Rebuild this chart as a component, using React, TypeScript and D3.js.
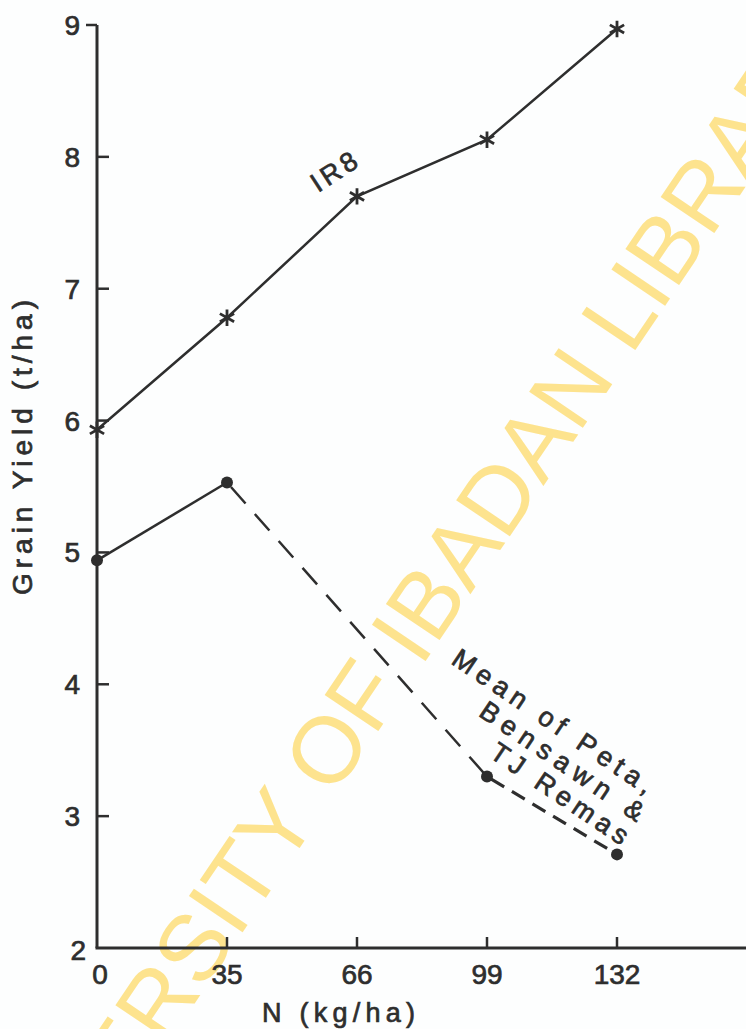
import React from "react";
import * as d3 from "d3";

const nLevels = ["0", "35", "66", "99", "132"];
const ir8Levels = ["0", "35", "66", "99", "132"];
const ir8Yield = [5.93, 6.78, 7.7, 8.13, 8.97];
const meanLevels = ["0", "35", "99", "132"];
const meanYield = [4.94, 5.53, 3.3, 2.71];
const yTicks = [2, 3, 4, 5, 6, 7, 8, 9];
const xTickLabels = ["0", "35", "66", "99", "132"];

const W = 746;
const H = 1029;
const INK = "#2e2e2e";
const FONT = "'Liberation Sans', Arial, sans-serif";

export default function App() {
  const x = d3.scalePoint<string>().domain(nLevels).range([97, 617]).padding(0);
  const y = d3.scaleLinear().domain([2, 9]).range([948, 25]);

  const ir8Pts: [number, number][] = ir8Levels.map((l, i) => [x(l)!, y(ir8Yield[i])]);
  const meanPts: [number, number][] = meanLevels.map((l, i) => [x(l)!, y(meanYield[i])]);
  const line = d3.line();
  const star = d3.symbol(d3.symbolAsterisk, 190)();

  const x0 = x(nLevels[0])!;
  const yBase = y(2);
  const txt = { fontFamily: FONT, fill: INK, stroke: INK, strokeWidth: 0.7 };

  return (
    <svg width={W} height={H} style={{ position: "absolute", left: 0, top: 0 }}>
      <rect width={W} height={H} fill="#fdfefe" />
      {/* watermark */}
      <text
        transform="translate(4,1286) rotate(-56)"
        fontFamily={FONT}
        fontSize={94}
        fill="#fde38e"
      >
        UNIVERSITY OF IBADAN LIBRARY
      </text>

      {/* axes */}
      <line x1={x0} y1={y(9)} x2={x0} y2={yBase} stroke={INK} strokeWidth={3} />
      <line x1={x0 - 1.5} y1={yBase} x2={W} y2={yBase} stroke={INK} strokeWidth={3} />
      {yTicks.map((t) =>
        t === 2 ? null : t === 9 ? (
          <line key={t} x1={x0 - 11} x2={x0} y1={y(t)} y2={y(t)} stroke={INK} strokeWidth={2.5} />
        ) : (
          <line key={t} x1={x0} x2={x0 + 12} y1={y(t)} y2={y(t)} stroke={INK} strokeWidth={2.5} />
        )
      )}
      {yTicks.map((t) => (
        <text
          key={"l" + t}
          x={t === 2 ? 86 : 80}
          y={y(t) + (t === 2 ? 12 : 10)}
          textAnchor="end"
          fontSize={28}
          {...txt}
        >
          {t}
        </text>
      ))}
      {xTickLabels.map((t, i) =>
        i === 0 ? null : (
          <line key={t} x1={x(t)!} x2={x(t)!} y1={yBase} y2={yBase - 11} stroke={INK} strokeWidth={2.5} />
        )
      )}
      {xTickLabels.map((t, i) => (
        <text
          key={"x" + t}
          x={x(t)! + (i === 0 ? 3 : 0)}
          y={yBase + 36}
          textAnchor="middle"
          fontSize={28}
          {...txt}
        >
          {t}
        </text>
      ))}
      <text x={262} y={1022} fontSize={27} textLength={153} lengthAdjust="spacing" {...txt}>
        N (kg/ha)
      </text>
      <text
        transform="translate(32,595) rotate(-90)"
        fontSize={28}
        textLength={295}
        lengthAdjust="spacing"
        {...txt}
      >
        Grain Yield (t/ha)
      </text>

      {/* IR8 series */}
      <path d={line(ir8Pts)!} fill="none" stroke={INK} strokeWidth={2.5} />
      {ir8Pts.map((p, i) => (
        <path key={"s" + i} d={star!} transform={`translate(${p[0]},${p[1]})`} fill="none" stroke={INK} strokeWidth={2.8} />
      ))}
      <text
        transform="translate(318,193) rotate(-33)"
        fontSize={27}
        textLength={50}
        lengthAdjust="spacing"
        {...txt}
      >
        IR8
      </text>

      {/* Mean series */}
      <path d={line([meanPts[0], meanPts[1]])!} fill="none" stroke={INK} strokeWidth={2.5} />
      <path
        d={line([meanPts[1], meanPts[2]])!}
        fill="none"
        stroke={INK}
        strokeWidth={2.5}
        strokeDasharray="22 14"
        strokeDashoffset={-6}
      />
      <path
        d={line([meanPts[2], meanPts[3]])!}
        fill="none"
        stroke={INK}
        strokeWidth={3.2}
        strokeDasharray="15 9"
        strokeDashoffset={-5}
      />
      {meanPts.map((p, i) => (
        <circle key={"c" + i} cx={p[0]} cy={p[1]} r={6} fill={INK} />
      ))}
      <g transform="translate(450,663) rotate(34)" fontSize={27} {...txt}>
        <text x={0} y={0} textLength={236} lengthAdjust="spacing">
          Mean of Peta,
        </text>
        <text x={52} y={28} textLength={192} lengthAdjust="spacing">
          Bensawn &amp;
        </text>
        <text x={84} y={56} textLength={160} lengthAdjust="spacing">
          TJ Remas
        </text>
      </g>
    </svg>
  );
}
